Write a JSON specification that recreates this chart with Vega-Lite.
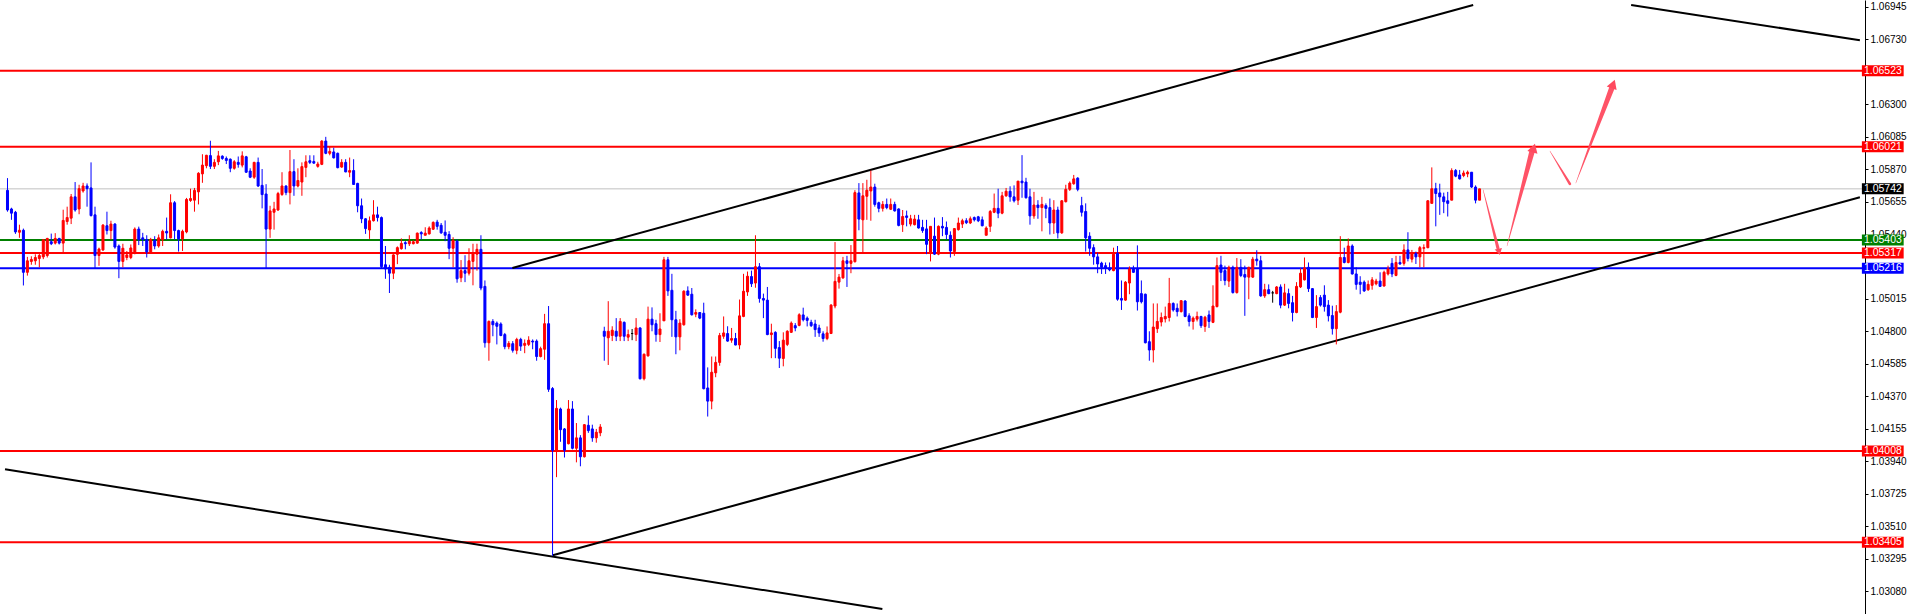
{
"$schema":"https://vega.github.io/schema/vega-lite/v6.json",
"width":1865,"height":614,"autosize":"none",
"padding":{"left":0,"top":0,"right":47,"bottom":0},
"background":"#ffffff",
"view":{"stroke":null},
"config":{"axisY":{"orient":"right","title":null,"grid":false,"zindex":0,"domainColor":"#000000","domainWidth":1,"tickColor":"#000000","tickSize":3,"labelPadding":2,"labelFont":"Liberation Sans","labelFontSize":10,"labelColor":"#000000","labelBaseline":"middle","labelOverlap":false,"labelBound":false}},
"datasets":{
"candles":[
{"i":0,"o":1.05732,"h":1.05813,"l":1.05591,"c":1.05602},
{"i":1,"o":1.05609,"h":1.05617,"l":1.05537,"c":1.05581},
{"i":2,"o":1.05587,"h":1.05596,"l":1.05444,"c":1.05457},
{"i":3,"o":1.05455,"h":1.05505,"l":1.05418,"c":1.05468},
{"i":4,"o":1.05468,"h":1.05479,"l":1.05103,"c":1.0519},
{"i":5,"o":1.0519,"h":1.05292,"l":1.05168,"c":1.05266},
{"i":6,"o":1.05262,"h":1.05296,"l":1.0524,"c":1.05275},
{"i":7,"o":1.05266,"h":1.05309,"l":1.0524,"c":1.05288},
{"i":8,"o":1.05281,"h":1.0532,"l":1.05223,"c":1.05301},
{"i":9,"o":1.05292,"h":1.05409,"l":1.05277,"c":1.05405},
{"i":10,"o":1.05301,"h":1.05418,"l":1.05288,"c":1.05414},
{"i":11,"o":1.05392,"h":1.05446,"l":1.0537,"c":1.05379},
{"i":12,"o":1.05383,"h":1.05449,"l":1.05374,"c":1.05414},
{"i":13,"o":1.05414,"h":1.05418,"l":1.05374,"c":1.05383},
{"i":14,"o":1.05383,"h":1.05604,"l":1.0532,"c":1.05533},
{"i":15,"o":1.05526,"h":1.05624,"l":1.05505,"c":1.05552},
{"i":16,"o":1.05548,"h":1.05708,"l":1.05509,"c":1.05689},
{"i":17,"o":1.05689,"h":1.05787,"l":1.05591,"c":1.05602},
{"i":18,"o":1.05609,"h":1.05769,"l":1.05574,"c":1.05743},
{"i":19,"o":1.05728,"h":1.05782,"l":1.05717,"c":1.05761},
{"i":20,"o":1.05761,"h":1.05778,"l":1.05624,"c":1.05743},
{"i":21,"o":1.05748,"h":1.05917,"l":1.05559,"c":1.05565},
{"i":22,"o":1.0557,"h":1.05624,"l":1.05218,"c":1.05301},
{"i":23,"o":1.05301,"h":1.05353,"l":1.05233,"c":1.05344},
{"i":24,"o":1.05338,"h":1.05509,"l":1.05331,"c":1.05502},
{"i":25,"o":1.05498,"h":1.05591,"l":1.0544,"c":1.05466},
{"i":26,"o":1.05466,"h":1.05531,"l":1.05407,"c":1.05509},
{"i":27,"o":1.05509,"h":1.05515,"l":1.05346,"c":1.05357},
{"i":28,"o":1.05364,"h":1.05374,"l":1.05151,"c":1.05262},
{"i":29,"o":1.05262,"h":1.05379,"l":1.05223,"c":1.05349},
{"i":30,"o":1.05288,"h":1.05331,"l":1.0527,"c":1.05305},
{"i":31,"o":1.05288,"h":1.05374,"l":1.05277,"c":1.05351},
{"i":32,"o":1.0532,"h":1.05487,"l":1.05309,"c":1.05476},
{"i":33,"o":1.05476,"h":1.05492,"l":1.0537,"c":1.05407},
{"i":34,"o":1.05418,"h":1.05451,"l":1.05364,"c":1.05407},
{"i":35,"o":1.05407,"h":1.05435,"l":1.05288,"c":1.05325},
{"i":36,"o":1.05325,"h":1.05418,"l":1.05316,"c":1.05407},
{"i":37,"o":1.05401,"h":1.05429,"l":1.05342,"c":1.05364},
{"i":38,"o":1.05364,"h":1.0544,"l":1.05353,"c":1.05418},
{"i":39,"o":1.05405,"h":1.05472,"l":1.05364,"c":1.05461},
{"i":40,"o":1.05461,"h":1.05552,"l":1.05407,"c":1.0545},
{"i":41,"o":1.05418,"h":1.05706,"l":1.05414,"c":1.0565},
{"i":42,"o":1.0565,"h":1.05661,"l":1.05407,"c":1.05466},
{"i":43,"o":1.05466,"h":1.05472,"l":1.05327,"c":1.05411},
{"i":44,"o":1.05411,"h":1.05472,"l":1.05331,"c":1.05461},
{"i":45,"o":1.05457,"h":1.05682,"l":1.05448,"c":1.05672},
{"i":46,"o":1.05665,"h":1.05743,"l":1.05656,"c":1.05678},
{"i":47,"o":1.05667,"h":1.05748,"l":1.05591,"c":1.05732},
{"i":48,"o":1.05722,"h":1.05852,"l":1.05639,"c":1.05845},
{"i":49,"o":1.05841,"h":1.05971,"l":1.05782,"c":1.05899},
{"i":50,"o":1.05895,"h":1.05967,"l":1.05878,"c":1.05964},
{"i":51,"o":1.05962,"h":1.0606,"l":1.05873,"c":1.05891},
{"i":52,"o":1.05891,"h":1.05938,"l":1.05873,"c":1.05917},
{"i":53,"o":1.05921,"h":1.05993,"l":1.05899,"c":1.0596},
{"i":54,"o":1.05958,"h":1.05964,"l":1.05934,"c":1.05943},
{"i":55,"o":1.05943,"h":1.05956,"l":1.05906,"c":1.0593},
{"i":56,"o":1.05938,"h":1.05943,"l":1.05852,"c":1.05878},
{"i":57,"o":1.05878,"h":1.05932,"l":1.05869,"c":1.05921},
{"i":58,"o":1.05917,"h":1.05956,"l":1.05882,"c":1.05904},
{"i":59,"o":1.05899,"h":1.0599,"l":1.05884,"c":1.0596},
{"i":60,"o":1.05954,"h":1.0596,"l":1.05847,"c":1.05852},
{"i":61,"o":1.0586,"h":1.05878,"l":1.05813,"c":1.05819},
{"i":62,"o":1.05819,"h":1.05921,"l":1.05808,"c":1.05917},
{"i":63,"o":1.05917,"h":1.05949,"l":1.05754,"c":1.05761},
{"i":64,"o":1.05765,"h":1.05873,"l":1.05613,"c":1.05704},
{"i":65,"o":1.05708,"h":1.05773,"l":1.05216,"c":1.05476},
{"i":66,"o":1.05476,"h":1.0563,"l":1.05418,"c":1.05596},
{"i":67,"o":1.05587,"h":1.05656,"l":1.05472,"c":1.05609},
{"i":68,"o":1.05602,"h":1.05722,"l":1.05596,"c":1.05711},
{"i":69,"o":1.05704,"h":1.05852,"l":1.05696,"c":1.05761},
{"i":70,"o":1.05761,"h":1.05765,"l":1.057,"c":1.05717},
{"i":71,"o":1.05717,"h":1.05999,"l":1.05639,"c":1.05856},
{"i":72,"o":1.05856,"h":1.05938,"l":1.05696,"c":1.05761},
{"i":73,"o":1.05761,"h":1.05878,"l":1.05752,"c":1.05797},
{"i":74,"o":1.05787,"h":1.05917,"l":1.05696,"c":1.05889},
{"i":75,"o":1.05884,"h":1.05964,"l":1.05819,"c":1.05921},
{"i":76,"o":1.05928,"h":1.05964,"l":1.05906,"c":1.05917},
{"i":77,"o":1.05923,"h":1.05964,"l":1.05908,"c":1.05912},
{"i":78,"o":1.05891,"h":1.05921,"l":1.05882,"c":1.05906},
{"i":79,"o":1.05904,"h":1.06064,"l":1.05899,"c":1.06058},
{"i":80,"o":1.06058,"h":1.06086,"l":1.05971,"c":1.05977},
{"i":81,"o":1.05977,"h":1.06021,"l":1.05964,"c":1.0599},
{"i":82,"o":1.05986,"h":1.06014,"l":1.05943,"c":1.05947},
{"i":83,"o":1.05977,"h":1.05982,"l":1.05878,"c":1.05882},
{"i":84,"o":1.05886,"h":1.05938,"l":1.05882,"c":1.05917},
{"i":85,"o":1.05917,"h":1.05938,"l":1.05852,"c":1.05854},
{"i":86,"o":1.05852,"h":1.05949,"l":1.05819,"c":1.05863},
{"i":87,"o":1.05863,"h":1.05938,"l":1.05769,"c":1.05771},
{"i":88,"o":1.05778,"h":1.05782,"l":1.05587,"c":1.0563},
{"i":89,"o":1.0563,"h":1.05678,"l":1.05515,"c":1.05544},
{"i":90,"o":1.05544,"h":1.05548,"l":1.05444,"c":1.05479},
{"i":91,"o":1.0547,"h":1.05559,"l":1.05411,"c":1.05531},
{"i":92,"o":1.05531,"h":1.05667,"l":1.05526,"c":1.0557},
{"i":93,"o":1.0557,"h":1.05624,"l":1.05526,"c":1.05552},
{"i":94,"o":1.05552,"h":1.05559,"l":1.05212,"c":1.05227},
{"i":95,"o":1.0524,"h":1.05364,"l":1.05147,"c":1.05212},
{"i":96,"o":1.05223,"h":1.0524,"l":1.05053,"c":1.05184},
{"i":97,"o":1.05184,"h":1.05309,"l":1.05145,"c":1.05305},
{"i":98,"o":1.05309,"h":1.05361,"l":1.05244,"c":1.05353},
{"i":99,"o":1.05346,"h":1.05414,"l":1.0534,"c":1.05381},
{"i":100,"o":1.05386,"h":1.05396,"l":1.05342,"c":1.05379},
{"i":101,"o":1.05379,"h":1.05435,"l":1.05364,"c":1.05396},
{"i":102,"o":1.05379,"h":1.05401,"l":1.05375,"c":1.05392},
{"i":103,"o":1.05383,"h":1.05453,"l":1.05379,"c":1.05449},
{"i":104,"o":1.05453,"h":1.05462,"l":1.05407,"c":1.05444},
{"i":105,"o":1.05435,"h":1.05488,"l":1.05435,"c":1.05449},
{"i":106,"o":1.05444,"h":1.05494,"l":1.0544,"c":1.05483},
{"i":107,"o":1.05475,"h":1.05527,"l":1.0547,"c":1.0552},
{"i":108,"o":1.05522,"h":1.05537,"l":1.05472,"c":1.05494},
{"i":109,"o":1.05501,"h":1.05516,"l":1.05444,"c":1.05451},
{"i":110,"o":1.05455,"h":1.05533,"l":1.05396,"c":1.05435},
{"i":111,"o":1.0544,"h":1.05462,"l":1.05277,"c":1.05349},
{"i":112,"o":1.05349,"h":1.05422,"l":1.05223,"c":1.05401},
{"i":113,"o":1.05396,"h":1.05407,"l":1.05121,"c":1.05147},
{"i":114,"o":1.05154,"h":1.05271,"l":1.05125,"c":1.05201},
{"i":115,"o":1.05201,"h":1.05303,"l":1.05125,"c":1.05184},
{"i":116,"o":1.05184,"h":1.05349,"l":1.05169,"c":1.05266},
{"i":117,"o":1.05262,"h":1.05379,"l":1.05104,"c":1.05314},
{"i":118,"o":1.0531,"h":1.05379,"l":1.05201,"c":1.05342},
{"i":119,"o":1.05342,"h":1.05435,"l":1.05071,"c":1.05086},
{"i":120,"o":1.05097,"h":1.05136,"l":1.04692,"c":1.04724},
{"i":121,"o":1.04724,"h":1.04872,"l":1.04605,"c":1.04865},
{"i":122,"o":1.04865,"h":1.0488,"l":1.04767,"c":1.04843},
{"i":123,"o":1.04854,"h":1.04865,"l":1.04713,"c":1.04833},
{"i":124,"o":1.04848,"h":1.04859,"l":1.04767,"c":1.04772},
{"i":125,"o":1.04778,"h":1.04789,"l":1.04681,"c":1.04698},
{"i":126,"o":1.04698,"h":1.04735,"l":1.04681,"c":1.0472},
{"i":127,"o":1.04718,"h":1.04735,"l":1.04659,"c":1.04674},
{"i":128,"o":1.04674,"h":1.04757,"l":1.04648,"c":1.04746},
{"i":129,"o":1.04746,"h":1.04757,"l":1.0467,"c":1.04702},
{"i":130,"o":1.04707,"h":1.04746,"l":1.04655,"c":1.0472},
{"i":131,"o":1.04713,"h":1.04767,"l":1.04702,"c":1.04741},
{"i":132,"o":1.04735,"h":1.04746,"l":1.04681,"c":1.04729},
{"i":133,"o":1.04735,"h":1.04746,"l":1.04605,"c":1.04633},
{"i":134,"o":1.04633,"h":1.04698,"l":1.04627,"c":1.04685},
{"i":135,"o":1.04681,"h":1.04915,"l":1.04611,"c":1.0485},
{"i":136,"o":1.0485,"h":1.04967,"l":1.04399,"c":1.04416},
{"i":137,"o":1.04421,"h":1.04431,"l":1.03315,"c":1.04013},
{"i":138,"o":1.04013,"h":1.04345,"l":1.03835,"c":1.0429},
{"i":139,"o":1.04286,"h":1.04295,"l":1.04069,"c":1.04149},
{"i":140,"o":1.04154,"h":1.0416,"l":1.03965,"c":1.04013},
{"i":141,"o":1.04056,"h":1.04345,"l":1.04052,"c":1.04286},
{"i":142,"o":1.04286,"h":1.04338,"l":1.04019,"c":1.04026},
{"i":143,"o":1.04026,"h":1.04193,"l":1.03933,"c":1.04095},
{"i":144,"o":1.04095,"h":1.04113,"l":1.03907,"c":1.0397},
{"i":145,"o":1.0397,"h":1.04186,"l":1.03965,"c":1.04182},
{"i":146,"o":1.04178,"h":1.04243,"l":1.04128,"c":1.04143},
{"i":147,"o":1.04154,"h":1.04182,"l":1.04069,"c":1.04095},
{"i":148,"o":1.04095,"h":1.04154,"l":1.04063,"c":1.04132},
{"i":149,"o":1.04128,"h":1.04186,"l":1.04106,"c":1.04167},
{"i":150,"o":1.048,"h":1.0483,"l":1.04605,"c":1.04767},
{"i":151,"o":1.04757,"h":1.04999,"l":1.04577,"c":1.048},
{"i":152,"o":1.04772,"h":1.04833,"l":1.04735,"c":1.04807},
{"i":153,"o":1.048,"h":1.04887,"l":1.04735,"c":1.04767},
{"i":154,"o":1.04767,"h":1.04887,"l":1.04735,"c":1.04865},
{"i":155,"o":1.04859,"h":1.04865,"l":1.04735,"c":1.04767},
{"i":156,"o":1.04761,"h":1.04811,"l":1.04735,"c":1.04778},
{"i":157,"o":1.04785,"h":1.04815,"l":1.04741,"c":1.04785},
{"i":158,"o":1.04778,"h":1.04887,"l":1.04735,"c":1.04822},
{"i":159,"o":1.04822,"h":1.04826,"l":1.04481,"c":1.04486},
{"i":160,"o":1.04486,"h":1.04653,"l":1.04475,"c":1.04648},
{"i":161,"o":1.04637,"h":1.04963,"l":1.04633,"c":1.0488},
{"i":162,"o":1.0488,"h":1.04958,"l":1.048,"c":1.04843},
{"i":163,"o":1.0485,"h":1.04876,"l":1.04731,"c":1.04778},
{"i":164,"o":1.04778,"h":1.04919,"l":1.04729,"c":1.04815},
{"i":165,"o":1.04869,"h":1.05292,"l":1.04869,"c":1.05273},
{"i":166,"o":1.05273,"h":1.05292,"l":1.05034,"c":1.05067},
{"i":167,"o":1.05071,"h":1.0518,"l":1.04763,"c":1.04876},
{"i":168,"o":1.04876,"h":1.04935,"l":1.04648,"c":1.04763},
{"i":169,"o":1.04763,"h":1.0488,"l":1.04674,"c":1.04854},
{"i":170,"o":1.04843,"h":1.05071,"l":1.04837,"c":1.05065},
{"i":171,"o":1.05067,"h":1.05097,"l":1.05034,"c":1.05039},
{"i":172,"o":1.05045,"h":1.05086,"l":1.04904,"c":1.04909},
{"i":173,"o":1.04913,"h":1.04945,"l":1.04893,"c":1.04924},
{"i":174,"o":1.04924,"h":1.04926,"l":1.0488,"c":1.04887},
{"i":175,"o":1.04919,"h":1.04989,"l":1.04416,"c":1.0442},
{"i":176,"o":1.04425,"h":1.04561,"l":1.04236,"c":1.04338},
{"i":177,"o":1.04338,"h":1.04633,"l":1.04284,"c":1.04529},
{"i":178,"o":1.04525,"h":1.04633,"l":1.04496,"c":1.04594},
{"i":179,"o":1.04594,"h":1.04789,"l":1.04572,"c":1.04772},
{"i":180,"o":1.04767,"h":1.04898,"l":1.0475,"c":1.04789},
{"i":181,"o":1.04785,"h":1.04833,"l":1.04731,"c":1.04735},
{"i":182,"o":1.04741,"h":1.04822,"l":1.04724,"c":1.04752},
{"i":183,"o":1.04752,"h":1.04789,"l":1.04707,"c":1.04709},
{"i":184,"o":1.04709,"h":1.0501,"l":1.04681,"c":1.04902},
{"i":185,"o":1.04898,"h":1.0518,"l":1.04893,"c":1.05065},
{"i":186,"o":1.0506,"h":1.05195,"l":1.05034,"c":1.05164},
{"i":187,"o":1.05162,"h":1.05201,"l":1.05093,"c":1.05114},
{"i":188,"o":1.05119,"h":1.05435,"l":1.05088,"c":1.05227},
{"i":189,"o":1.05227,"h":1.05251,"l":1.04989,"c":1.05017},
{"i":190,"o":1.05017,"h":1.05049,"l":1.04887,"c":1.05006},
{"i":191,"o":1.05006,"h":1.05093,"l":1.04774,"c":1.04778},
{"i":192,"o":1.04778,"h":1.0485,"l":1.04622,"c":1.04789},
{"i":193,"o":1.04793,"h":1.048,"l":1.04622,"c":1.04687},
{"i":194,"o":1.04692,"h":1.04735,"l":1.04557,"c":1.04622},
{"i":195,"o":1.0462,"h":1.04793,"l":1.04568,"c":1.04741},
{"i":196,"o":1.04713,"h":1.04807,"l":1.04702,"c":1.048},
{"i":197,"o":1.04793,"h":1.04865,"l":1.04789,"c":1.04854},
{"i":198,"o":1.04837,"h":1.04854,"l":1.048,"c":1.04822},
{"i":199,"o":1.04839,"h":1.04919,"l":1.04833,"c":1.04909},
{"i":200,"o":1.04908,"h":1.04956,"l":1.04865,"c":1.04876},
{"i":201,"o":1.04887,"h":1.04898,"l":1.04832,"c":1.04872},
{"i":202,"o":1.04859,"h":1.04876,"l":1.04828,"c":1.04837},
{"i":203,"o":1.04848,"h":1.04876,"l":1.04763,"c":1.04811},
{"i":204,"o":1.04822,"h":1.04843,"l":1.04763,"c":1.04789},
{"i":205,"o":1.04783,"h":1.048,"l":1.04731,"c":1.04752},
{"i":206,"o":1.04752,"h":1.04832,"l":1.04741,"c":1.04789},
{"i":207,"o":1.04785,"h":1.0498,"l":1.04785,"c":1.04973},
{"i":208,"o":1.04967,"h":1.0539,"l":1.04952,"c":1.0513},
{"i":209,"o":1.05125,"h":1.05179,"l":1.05082,"c":1.05158},
{"i":210,"o":1.05153,"h":1.05292,"l":1.05147,"c":1.05266},
{"i":211,"o":1.05266,"h":1.05299,"l":1.05093,"c":1.05249},
{"i":212,"o":1.05249,"h":1.0537,"l":1.05184,"c":1.05266},
{"i":213,"o":1.0526,"h":1.05733,"l":1.05255,"c":1.05717},
{"i":214,"o":1.05715,"h":1.0578,"l":1.05468,"c":1.05542},
{"i":215,"o":1.05537,"h":1.0578,"l":1.0532,"c":1.05696},
{"i":216,"o":1.05693,"h":1.05802,"l":1.05537,"c":1.05733},
{"i":217,"o":1.05728,"h":1.05863,"l":1.05531,"c":1.05754},
{"i":218,"o":1.05754,"h":1.05776,"l":1.05624,"c":1.05639},
{"i":219,"o":1.0565,"h":1.05657,"l":1.05587,"c":1.05613},
{"i":220,"o":1.05613,"h":1.05661,"l":1.05592,"c":1.05639},
{"i":221,"o":1.05639,"h":1.05678,"l":1.05607,"c":1.05618},
{"i":222,"o":1.05607,"h":1.05678,"l":1.05602,"c":1.05639},
{"i":223,"o":1.05639,"h":1.05657,"l":1.05592,"c":1.05596},
{"i":224,"o":1.05609,"h":1.05613,"l":1.05494,"c":1.055},
{"i":225,"o":1.05505,"h":1.05602,"l":1.05457,"c":1.05559},
{"i":226,"o":1.05563,"h":1.05598,"l":1.05494,"c":1.05553},
{"i":227,"o":1.05509,"h":1.0557,"l":1.05494,"c":1.05544},
{"i":228,"o":1.05505,"h":1.0557,"l":1.055,"c":1.05542},
{"i":229,"o":1.05537,"h":1.0557,"l":1.05479,"c":1.05483},
{"i":230,"o":1.05487,"h":1.05537,"l":1.05451,"c":1.05466},
{"i":231,"o":1.05477,"h":1.05537,"l":1.0531,"c":1.05375},
{"i":232,"o":1.05314,"h":1.05494,"l":1.05262,"c":1.05494},
{"i":233,"o":1.05429,"h":1.05552,"l":1.05305,"c":1.0531},
{"i":234,"o":1.0531,"h":1.055,"l":1.05303,"c":1.05494},
{"i":235,"o":1.05494,"h":1.05555,"l":1.05429,"c":1.05483},
{"i":236,"o":1.05487,"h":1.05526,"l":1.05407,"c":1.0544},
{"i":237,"o":1.05435,"h":1.05461,"l":1.05288,"c":1.05331},
{"i":238,"o":1.05327,"h":1.05483,"l":1.05299,"c":1.05479},
{"i":239,"o":1.05472,"h":1.05552,"l":1.05466,"c":1.05516},
{"i":240,"o":1.05509,"h":1.05544,"l":1.05483,"c":1.05531},
{"i":241,"o":1.05531,"h":1.05548,"l":1.05509,"c":1.05518},
{"i":242,"o":1.05516,"h":1.05559,"l":1.05509,"c":1.05544},
{"i":243,"o":1.05552,"h":1.05559,"l":1.05526,"c":1.05537},
{"i":244,"o":1.05557,"h":1.05563,"l":1.05522,"c":1.05531},
{"i":245,"o":1.05537,"h":1.05559,"l":1.05494,"c":1.05498},
{"i":246,"o":1.05435,"h":1.05494,"l":1.05435,"c":1.05483},
{"i":247,"o":1.05494,"h":1.05602,"l":1.05457,"c":1.05592},
{"i":248,"o":1.05587,"h":1.05711,"l":1.05581,"c":1.05613},
{"i":249,"o":1.05613,"h":1.05743,"l":1.05548,"c":1.05581},
{"i":250,"o":1.05581,"h":1.05722,"l":1.05574,"c":1.05696},
{"i":251,"o":1.05696,"h":1.05748,"l":1.05689,"c":1.05726},
{"i":252,"o":1.05726,"h":1.05759,"l":1.05657,"c":1.05689},
{"i":253,"o":1.05689,"h":1.05765,"l":1.05652,"c":1.05663},
{"i":254,"o":1.05667,"h":1.05793,"l":1.05635,"c":1.05793},
{"i":255,"o":1.05793,"h":1.05965,"l":1.05683,"c":1.05782},
{"i":256,"o":1.05787,"h":1.05815,"l":1.05678,"c":1.05683},
{"i":257,"o":1.05689,"h":1.05743,"l":1.05505,"c":1.05563},
{"i":258,"o":1.05563,"h":1.05722,"l":1.05544,"c":1.05635},
{"i":259,"o":1.05635,"h":1.05667,"l":1.05544,"c":1.05618},
{"i":260,"o":1.05618,"h":1.05689,"l":1.05461,"c":1.05639},
{"i":261,"o":1.05631,"h":1.05646,"l":1.05548,"c":1.05613},
{"i":262,"o":1.05618,"h":1.05678,"l":1.0544,"c":1.05516},
{"i":263,"o":1.05516,"h":1.05667,"l":1.05444,"c":1.05602},
{"i":264,"o":1.05602,"h":1.05624,"l":1.05414,"c":1.05451},
{"i":265,"o":1.05451,"h":1.05667,"l":1.05444,"c":1.05663},
{"i":266,"o":1.05657,"h":1.05769,"l":1.05652,"c":1.05739},
{"i":267,"o":1.05739,"h":1.05791,"l":1.05728,"c":1.0578},
{"i":268,"o":1.05776,"h":1.05834,"l":1.05769,"c":1.05808},
{"i":269,"o":1.05813,"h":1.05819,"l":1.05726,"c":1.05739},
{"i":270,"o":1.05631,"h":1.05689,"l":1.05559,"c":1.05587},
{"i":271,"o":1.05592,"h":1.05646,"l":1.05327,"c":1.05418},
{"i":272,"o":1.05429,"h":1.05455,"l":1.05299,"c":1.05349},
{"i":273,"o":1.05353,"h":1.05375,"l":1.0524,"c":1.05292},
{"i":274,"o":1.05292,"h":1.0532,"l":1.05184,"c":1.05245},
{"i":275,"o":1.05251,"h":1.0526,"l":1.05179,"c":1.05223},
{"i":276,"o":1.05234,"h":1.05255,"l":1.05179,"c":1.05216},
{"i":277,"o":1.05219,"h":1.05255,"l":1.05197,"c":1.05206},
{"i":278,"o":1.05201,"h":1.05353,"l":1.05197,"c":1.0531},
{"i":279,"o":1.05316,"h":1.05364,"l":1.05002,"c":1.05012},
{"i":280,"o":1.05017,"h":1.05136,"l":1.04941,"c":1.05006},
{"i":281,"o":1.05006,"h":1.05132,"l":1.05002,"c":1.05125},
{"i":282,"o":1.05119,"h":1.05229,"l":1.05045,"c":1.05212},
{"i":283,"o":1.05212,"h":1.05234,"l":1.05186,"c":1.0519},
{"i":284,"o":1.05212,"h":1.05368,"l":1.04937,"c":1.04995},
{"i":285,"o":1.05049,"h":1.05136,"l":1.04984,"c":1.04995},
{"i":286,"o":1.05045,"h":1.05049,"l":1.0472,"c":1.04724},
{"i":287,"o":1.04731,"h":1.048,"l":1.04605,"c":1.04676},
{"i":288,"o":1.04676,"h":1.04984,"l":1.04594,"c":1.04828},
{"i":289,"o":1.04817,"h":1.04984,"l":1.04789,"c":1.04865},
{"i":290,"o":1.04861,"h":1.04924,"l":1.04832,"c":1.04891},
{"i":291,"o":1.04882,"h":1.04963,"l":1.04858,"c":1.04898},
{"i":292,"o":1.04891,"h":1.05153,"l":1.04865,"c":1.04984},
{"i":293,"o":1.04984,"h":1.04991,"l":1.0493,"c":1.04941},
{"i":294,"o":1.04952,"h":1.04984,"l":1.04898,"c":1.0493},
{"i":295,"o":1.0493,"h":1.05006,"l":1.04924,"c":1.05002},
{"i":296,"o":1.05,"h":1.05006,"l":1.04893,"c":1.04898},
{"i":297,"o":1.04902,"h":1.04919,"l":1.04832,"c":1.04865},
{"i":298,"o":1.04865,"h":1.04898,"l":1.04811,"c":1.04887},
{"i":299,"o":1.0488,"h":1.0493,"l":1.04865,"c":1.04898},
{"i":300,"o":1.04898,"h":1.04902,"l":1.04822,"c":1.04837},
{"i":301,"o":1.04832,"h":1.04902,"l":1.04796,"c":1.04893},
{"i":302,"o":1.04908,"h":1.04937,"l":1.04822,"c":1.04865},
{"i":303,"o":1.04859,"h":1.05104,"l":1.04854,"c":1.04967},
{"i":304,"o":1.04963,"h":1.05288,"l":1.04958,"c":1.05234},
{"i":305,"o":1.05238,"h":1.05299,"l":1.05132,"c":1.0519},
{"i":306,"o":1.05201,"h":1.05234,"l":1.05104,"c":1.05136},
{"i":307,"o":1.05132,"h":1.05234,"l":1.05093,"c":1.05223},
{"i":308,"o":1.05223,"h":1.05234,"l":1.05049,"c":1.05056},
{"i":309,"o":1.05056,"h":1.05284,"l":1.05049,"c":1.05223},
{"i":310,"o":1.05223,"h":1.05277,"l":1.05158,"c":1.05169},
{"i":311,"o":1.05175,"h":1.05234,"l":1.04902,"c":1.05158},
{"i":312,"o":1.05158,"h":1.05227,"l":1.05012,"c":1.05223},
{"i":313,"o":1.05158,"h":1.05292,"l":1.05153,"c":1.05277},
{"i":314,"o":1.05277,"h":1.05336,"l":1.05234,"c":1.05266},
{"i":315,"o":1.05266,"h":1.05299,"l":1.05028,"c":1.05034},
{"i":316,"o":1.05034,"h":1.05114,"l":1.05021,"c":1.05075},
{"i":317,"o":1.05075,"h":1.0511,"l":1.05045,"c":1.05049},
{"i":318,"o":1.05054,"h":1.05067,"l":1.04989,"c":1.05054},
{"i":319,"o":1.05049,"h":1.05099,"l":1.05045,"c":1.05093},
{"i":320,"o":1.05093,"h":1.0511,"l":1.04952,"c":1.04973},
{"i":321,"o":1.04973,"h":1.05114,"l":1.04967,"c":1.05054},
{"i":322,"o":1.05049,"h":1.05082,"l":1.04952,"c":1.04984},
{"i":323,"o":1.04989,"h":1.05034,"l":1.04865,"c":1.04924},
{"i":324,"o":1.04924,"h":1.05125,"l":1.04919,"c":1.05097},
{"i":325,"o":1.05093,"h":1.05216,"l":1.05086,"c":1.05184},
{"i":326,"o":1.0514,"h":1.05288,"l":1.05136,"c":1.05219},
{"i":327,"o":1.05223,"h":1.05255,"l":1.0506,"c":1.05082},
{"i":328,"o":1.05082,"h":1.05086,"l":1.04887,"c":1.04891},
{"i":329,"o":1.04891,"h":1.05039,"l":1.04822,"c":1.04963},
{"i":330,"o":1.05023,"h":1.05039,"l":1.04963,"c":1.04973},
{"i":331,"o":1.05039,"h":1.05104,"l":1.0493,"c":1.04963},
{"i":332,"o":1.04973,"h":1.05006,"l":1.04865,"c":1.04902},
{"i":333,"o":1.04904,"h":1.04969,"l":1.04778,"c":1.04817},
{"i":334,"o":1.04817,"h":1.04973,"l":1.04713,"c":1.0493},
{"i":335,"o":1.04926,"h":1.05429,"l":1.04919,"c":1.05288},
{"i":336,"o":1.05288,"h":1.05353,"l":1.05249,"c":1.05255},
{"i":337,"o":1.05255,"h":1.05414,"l":1.05249,"c":1.05364},
{"i":338,"o":1.05364,"h":1.05375,"l":1.05175,"c":1.05179},
{"i":339,"o":1.05179,"h":1.05223,"l":1.05075,"c":1.0511},
{"i":340,"o":1.05125,"h":1.05164,"l":1.05045,"c":1.0511},
{"i":341,"o":1.05125,"h":1.05136,"l":1.0506,"c":1.05067},
{"i":342,"o":1.05075,"h":1.05136,"l":1.05067,"c":1.0511},
{"i":343,"o":1.05104,"h":1.05158,"l":1.05075,"c":1.0514},
{"i":344,"o":1.05114,"h":1.05147,"l":1.05104,"c":1.05132},
{"i":345,"o":1.05132,"h":1.0519,"l":1.05093,"c":1.05097},
{"i":346,"o":1.05099,"h":1.05201,"l":1.05097,"c":1.0519},
{"i":347,"o":1.05179,"h":1.05234,"l":1.05169,"c":1.05212},
{"i":348,"o":1.05249,"h":1.05284,"l":1.05158,"c":1.05179},
{"i":349,"o":1.05169,"h":1.05299,"l":1.05164,"c":1.05255},
{"i":350,"o":1.05255,"h":1.05299,"l":1.0524,"c":1.05245},
{"i":351,"o":1.05249,"h":1.05375,"l":1.05234,"c":1.05338},
{"i":352,"o":1.05338,"h":1.05455,"l":1.05262,"c":1.05281},
{"i":353,"o":1.05277,"h":1.05338,"l":1.05255,"c":1.05314},
{"i":354,"o":1.05314,"h":1.05327,"l":1.05245,"c":1.05292},
{"i":355,"o":1.05292,"h":1.05364,"l":1.05223,"c":1.05353},
{"i":356,"o":1.05349,"h":1.05375,"l":1.05223,"c":1.05353},
{"i":357,"o":1.05353,"h":1.05667,"l":1.05349,"c":1.05663},
{"i":358,"o":1.05646,"h":1.05884,"l":1.05646,"c":1.05743},
{"i":359,"o":1.05743,"h":1.05782,"l":1.05494,"c":1.05711},
{"i":360,"o":1.05715,"h":1.05776,"l":1.0557,"c":1.05689},
{"i":361,"o":1.05689,"h":1.05717,"l":1.05581,"c":1.05657},
{"i":362,"o":1.05663,"h":1.05722,"l":1.05559,"c":1.05646},
{"i":363,"o":1.05667,"h":1.05878,"l":1.05667,"c":1.05863},
{"i":364,"o":1.05863,"h":1.05873,"l":1.05819,"c":1.05826},
{"i":365,"o":1.05834,"h":1.05867,"l":1.05804,"c":1.05808},
{"i":366,"o":1.0583,"h":1.05863,"l":1.05819,"c":1.05847},
{"i":367,"o":1.05841,"h":1.05863,"l":1.05819,"c":1.05852},
{"i":368,"o":1.05852,"h":1.05852,"l":1.05748,"c":1.05754},
{"i":369,"o":1.05754,"h":1.05765,"l":1.05646,"c":1.05667},
{"i":370,"o":1.05667,"h":1.05743,"l":1.05667,"c":1.05742}
],
"levels":[
{"p":1.06523,"k":"r"},{"p":1.06021,"k":"r"},{"p":1.05742,"k":"c"},{"p":1.05403,"k":"g"},
{"p":1.05317,"k":"r"},{"p":1.05216,"k":"b"},{"p":1.04008,"k":"r"},{"p":1.03405,"k":"r"}
],
"trend":[
{"ln":"A","i":126.9,"p":1.05219},{"ln":"A","i":368.4,"p":1.06958},
{"ln":"B","i":408.1,"p":1.06958},{"ln":"B","i":465.6,"p":1.06725},
{"ln":"C","i":137.05,"p":1.03319},{"ln":"C","i":465.6,"p":1.05686},
{"ln":"D","i":-0.625,"p":1.03887},{"ln":"D","i":219.9,"p":1.02963}
],
"arrows":[
{"a":1,"t":0,"i":370.9,"p":1.05735},{"a":1,"t":0.55,"i":374.6,"p":1.05352},
{"a":2,"t":0,"i":376.9,"p":1.05364},{"a":2,"t":1,"i":383.2,"p":1.05990},
{"a":3,"t":0,"i":387.7,"p":1.05992},{"a":3,"t":0.45,"i":392.7,"p":1.05775},
{"a":4,"t":0,"i":394.2,"p":1.05781},{"a":4,"t":1,"i":403.3,"p":1.06412}
],
"heads":[
{"i":374.9,"p":1.05325,"ang":167,"t":0.5},
{"i":383.6,"p":1.06012,"ang":16,"t":1},
{"i":403.6,"p":1.06436,"ang":20,"t":1}
]
},
"layer":[
{"data":{"name":"levels"},"mark":{"type":"rule"},
 "encoding":{
  "y":{"field":"p","type":"quantitative","scale":{"domain":[1.02963,1.06958],"nice":false,"zero":false},"axis":{"values":[1.06945,1.0673,1.063,1.06085,1.0587,1.05655,1.0544,1.05015,1.048,1.04585,1.0437,1.04155,1.0394,1.03725,1.0351,1.03295,1.0308],"format":".5f"}},
  "color":{"field":"k","type":"nominal","scale":{"domain":["r","g","b","c"],"range":["#ff0000","#008000","#0000ff","#c0c0c0"]},"legend":null},
  "strokeWidth":{"condition":{"test":"datum.k=='c'","value":1},"value":2}
 }},
{"data":{"name":"trend"},"mark":{"type":"line","color":"#000000","strokeWidth":2,"clip":true},
 "encoding":{
  "x":{"field":"i","type":"quantitative","scale":{"domain":[-0.625,465.625],"nice":false,"zero":false},"axis":null},
  "y":{"field":"p","type":"quantitative","axis":{"values":[1.06945,1.0673,1.063,1.06085,1.0587,1.05655,1.0544,1.05015,1.048,1.04585,1.0437,1.04155,1.0394,1.03725,1.0351,1.03295,1.0308],"format":".5f"}},
  "detail":{"field":"ln","type":"nominal"}
 }},
{"data":{"name":"candles"},"mark":{"type":"rule","strokeWidth":1},
 "encoding":{
  "x":{"field":"i","type":"quantitative","scale":{"domain":[-0.625,465.625],"nice":false,"zero":false},"axis":null},
  "y":{"field":"l","type":"quantitative","axis":{"values":[1.06945,1.0673,1.063,1.06085,1.0587,1.05655,1.0544,1.05015,1.048,1.04585,1.0437,1.04155,1.0394,1.03725,1.0351,1.03295,1.0308],"format":".5f"}},
  "y2":{"field":"h"},
  "color":{"condition":[{"test":"abs(datum.c-datum.o)<0.000005","value":"#000000"},{"test":"datum.c>datum.o","value":"#ff0000"}],"value":"#0000ff"}
 }},
{"data":{"name":"candles"},"mark":{"type":"bar","size":2,"strokeWidth":1},
 "encoding":{
  "x":{"field":"i","type":"quantitative","scale":{"domain":[-0.625,465.625],"nice":false,"zero":false},"axis":null},
  "y":{"field":"o","type":"quantitative","axis":{"values":[1.06945,1.0673,1.063,1.06085,1.0587,1.05655,1.0544,1.05015,1.048,1.04585,1.0437,1.04155,1.0394,1.03725,1.0351,1.03295,1.0308],"format":".5f"}},
  "y2":{"field":"c"},
  "color":{"condition":[{"test":"abs(datum.c-datum.o)<0.000005","value":"#000000"},{"test":"datum.c>datum.o","value":"#ff0000"}],"value":"#0000ff"},
  "stroke":{"condition":[{"test":"abs(datum.c-datum.o)<0.000005","value":"#000000"},{"test":"datum.c>datum.o","value":"#ff0000"}],"value":"#0000ff"}
 }},
{"data":{"name":"arrows"},"mark":{"type":"trail","color":"#ff4a5f","opacity":0.95},
 "encoding":{
  "x":{"field":"i","type":"quantitative","scale":{"domain":[-0.625,465.625],"nice":false,"zero":false},"axis":null},
  "y":{"field":"p","type":"quantitative","axis":{"values":[1.06945,1.0673,1.063,1.06085,1.0587,1.05655,1.0544,1.05015,1.048,1.04585,1.0437,1.04155,1.0394,1.03725,1.0351,1.03295,1.0308],"format":".5f"}},
  "detail":{"field":"a","type":"nominal"},
  "size":{"field":"t","type":"quantitative","scale":{"domain":[0,1],"range":[0.4,5.5]},"legend":null}
 }},
{"data":{"name":"heads"},"mark":{"type":"point","shape":"triangle-up","filled":true,"color":"#ff4a5f","opacity":1},
 "encoding":{
  "x":{"field":"i","type":"quantitative","scale":{"domain":[-0.625,465.625],"nice":false,"zero":false},"axis":null},
  "y":{"field":"p","type":"quantitative","axis":{"values":[1.06945,1.0673,1.063,1.06085,1.0587,1.05655,1.0544,1.05015,1.048,1.04585,1.0437,1.04155,1.0394,1.03725,1.0351,1.03295,1.0308],"format":".5f"}},
  "angle":{"field":"ang","type":"quantitative","scale":null},
  "size":{"field":"t","type":"quantitative","scale":{"domain":[0,1],"range":[0,110]},"legend":null}
 }},
{"data":{"name":"levels"},"mark":{"type":"bar","size":11,"orient":"horizontal","zindex":2},
 "encoding":{
  "x":{"datum":466.1,"type":"quantitative","scale":{"domain":[-0.625,465.625],"nice":false,"zero":false},"axis":null},
  "x2":{"datum":476.6},
  "y":{"field":"p","type":"quantitative","axis":{"values":[1.06945,1.0673,1.063,1.06085,1.0587,1.05655,1.0544,1.05015,1.048,1.04585,1.0437,1.04155,1.0394,1.03725,1.0351,1.03295,1.0308],"format":".5f"}},
  "color":{"field":"k","type":"nominal","scale":{"domain":["r","g","b","c"],"range":["#ff0000","#008000","#0000ff","#000000"]},"legend":null}
 }},
{"data":{"name":"levels"},"mark":{"type":"text","align":"left","baseline":"middle","color":"#ffffff","font":"Liberation Sans","fontSize":10.5,"dx":2,"zindex":3},
 "encoding":{
  "x":{"datum":466.1,"type":"quantitative","scale":{"domain":[-0.625,465.625],"nice":false,"zero":false},"axis":null},
  "y":{"field":"p","type":"quantitative","axis":{"values":[1.06945,1.0673,1.063,1.06085,1.0587,1.05655,1.0544,1.05015,1.048,1.04585,1.0437,1.04155,1.0394,1.03725,1.0351,1.03295,1.0308],"format":".5f"}},
  "text":{"field":"p","type":"quantitative","format":".5f"}
 }}
],
"resolve":{"scale":{"color":"independent","size":"independent"}}
}
